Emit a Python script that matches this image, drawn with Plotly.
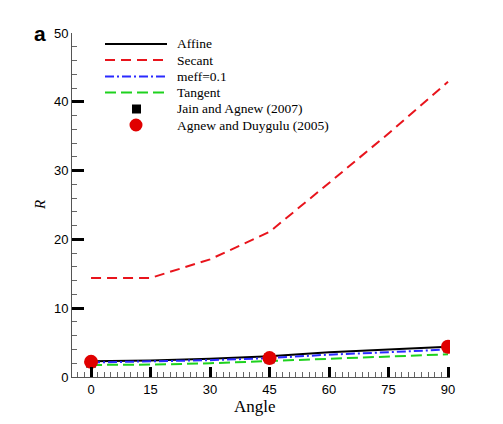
import plotly.graph_objects as go

angles = [0, 15, 30, 45, 60, 75, 90]
affine = [2.3, 2.4, 2.65, 3.0, 3.6, 4.0, 4.4]
secant = [14.4, 14.4, 17.1, 21.1, 28.2, 35.4, 42.9]
meff = [2.1, 2.25, 2.45, 2.75, 3.25, 3.6, 4.0]
tangent = [1.75, 1.8, 2.0, 2.3, 2.65, 2.95, 3.3]

exp_angles = [0, 45, 90]
jain = [2.1, 2.7, 4.3]
agnew = [2.2, 2.75, 4.4]

names = ["Affine", "Secant", "meff=0.1", "Tangent",
         "Jain and Agnew (2007)", "Agnew and Duygulu (2005)"]

W, H = 503, 424
L, R, T, B = 72, 53, 33, 47
PW, PH = W - L - R, H - T - B

def px(x):
    return (x - L) / PW

def py(y):
    return (H - B - y) / PH

line_styles = [
    dict(color="black", width=2),
    dict(color="#e8141c", width=2, dash="10px,6px"),
    dict(color="#2a2aff", width=2, dash="9px,3px,2px,3px"),
    dict(color="#1ed21e", width=2, dash="11px,5px"),
]

fig = go.Figure()
for nm, ys, st in zip(names[:4], [affine, secant, meff, tangent], line_styles):
    fig.add_trace(go.Scatter(x=angles, y=ys, mode="lines", name=nm, line=st,
                             showlegend=False))
fig.add_trace(go.Scatter(x=exp_angles, y=jain, mode="markers", name=names[4],
                         marker=dict(symbol="square", color="black", size=10),
                         showlegend=False))
fig.add_trace(go.Scatter(x=exp_angles, y=agnew, mode="markers", name=names[5],
                         marker=dict(symbol="circle", color="#e00000", size=14),
                         showlegend=False))

# manual legend (layout only)
rows = [44, 60, 76.5, 92.5, 109, 125]
shapes = []
annotations = []
for i, (nm, ry) in enumerate(zip(names, rows)):
    if i < 4:
        shapes.append(dict(type="line", xref="paper", yref="paper",
                           x0=px(105), x1=px(167), y0=py(ry), y1=py(ry),
                           line=line_styles[i]))
    elif i == 4:
        shapes.append(dict(type="rect", xref="paper", yref="paper",
                           x0=px(132), x1=px(141), y0=py(ry + 4.5), y1=py(ry - 4.5),
                           fillcolor="black", line=dict(width=0)))
    else:
        shapes.append(dict(type="circle", xref="paper", yref="paper",
                           x0=px(129.5), x1=px(142.5), y0=py(ry + 6.5), y1=py(ry - 6.5),
                           fillcolor="#e00000", line=dict(width=0)))
    annotations.append(dict(text=nm, x=px(175), y=py(ry), xref="paper", yref="paper",
                            xanchor="left", yanchor="middle", showarrow=False,
                            font=dict(family="Liberation Serif, Times New Roman", size=13.5,
                                      color="black")))

annotations.append(dict(text="<b>a</b>", x=px(40), y=py(33), xref="paper", yref="paper",
                        xanchor="center", yanchor="middle", showarrow=False,
                        font=dict(family="Liberation Sans, Arial", size=21, color="black")))
annotations.append(dict(text="Angle", x=px(255), y=py(406), xref="paper", yref="paper",
                        xanchor="center", yanchor="middle", showarrow=False,
                        font=dict(family="Liberation Serif, Times New Roman", size=17,
                                  color="black")))
annotations.append(dict(text="<i>R</i>", x=px(40), y=py(205), xref="paper", yref="paper",
                        xanchor="center", yanchor="middle", showarrow=False, textangle=-90,
                        font=dict(family="Liberation Serif, Times New Roman", size=15,
                                  color="black")))

tickfont = dict(family="Liberation Sans, Arial", size=13, color="black")

fig.update_layout(
    width=W, height=H,
    margin=dict(l=L, r=R, t=T, b=B),
    paper_bgcolor="white", plot_bgcolor="white",
    showlegend=False,
    shapes=shapes,
    annotations=annotations,
    xaxis=dict(range=[-4.8, 90.5], tickvals=angles, ticks="inside", ticklen=10,
               tickwidth=2.5, tickcolor="black", showline=True, linecolor="#555",
               linewidth=1, showgrid=False, zeroline=False, tickfont=tickfont,
               automargin=False,
               minor=dict(dtick=5/3, tick0=0, ticks="inside", ticklen=5, tickwidth=1,
                          tickcolor="#666")),
    yaxis=dict(range=[0, 50], dtick=10, ticks="inside", ticklen=12,
               tickwidth=2.5, tickcolor="black", showline=True, linecolor="#555",
               linewidth=1, showgrid=False, zeroline=False, tickfont=tickfont,
               automargin=False,
               minor=dict(dtick=2, ticks="inside", ticklen=5, tickwidth=1, tickcolor="#666")),
)

fig.write_html("out.html",
               config={"displayModeBar": False},
               post_script="document.body.style.margin='0px';document.body.style.overflow='hidden';")
